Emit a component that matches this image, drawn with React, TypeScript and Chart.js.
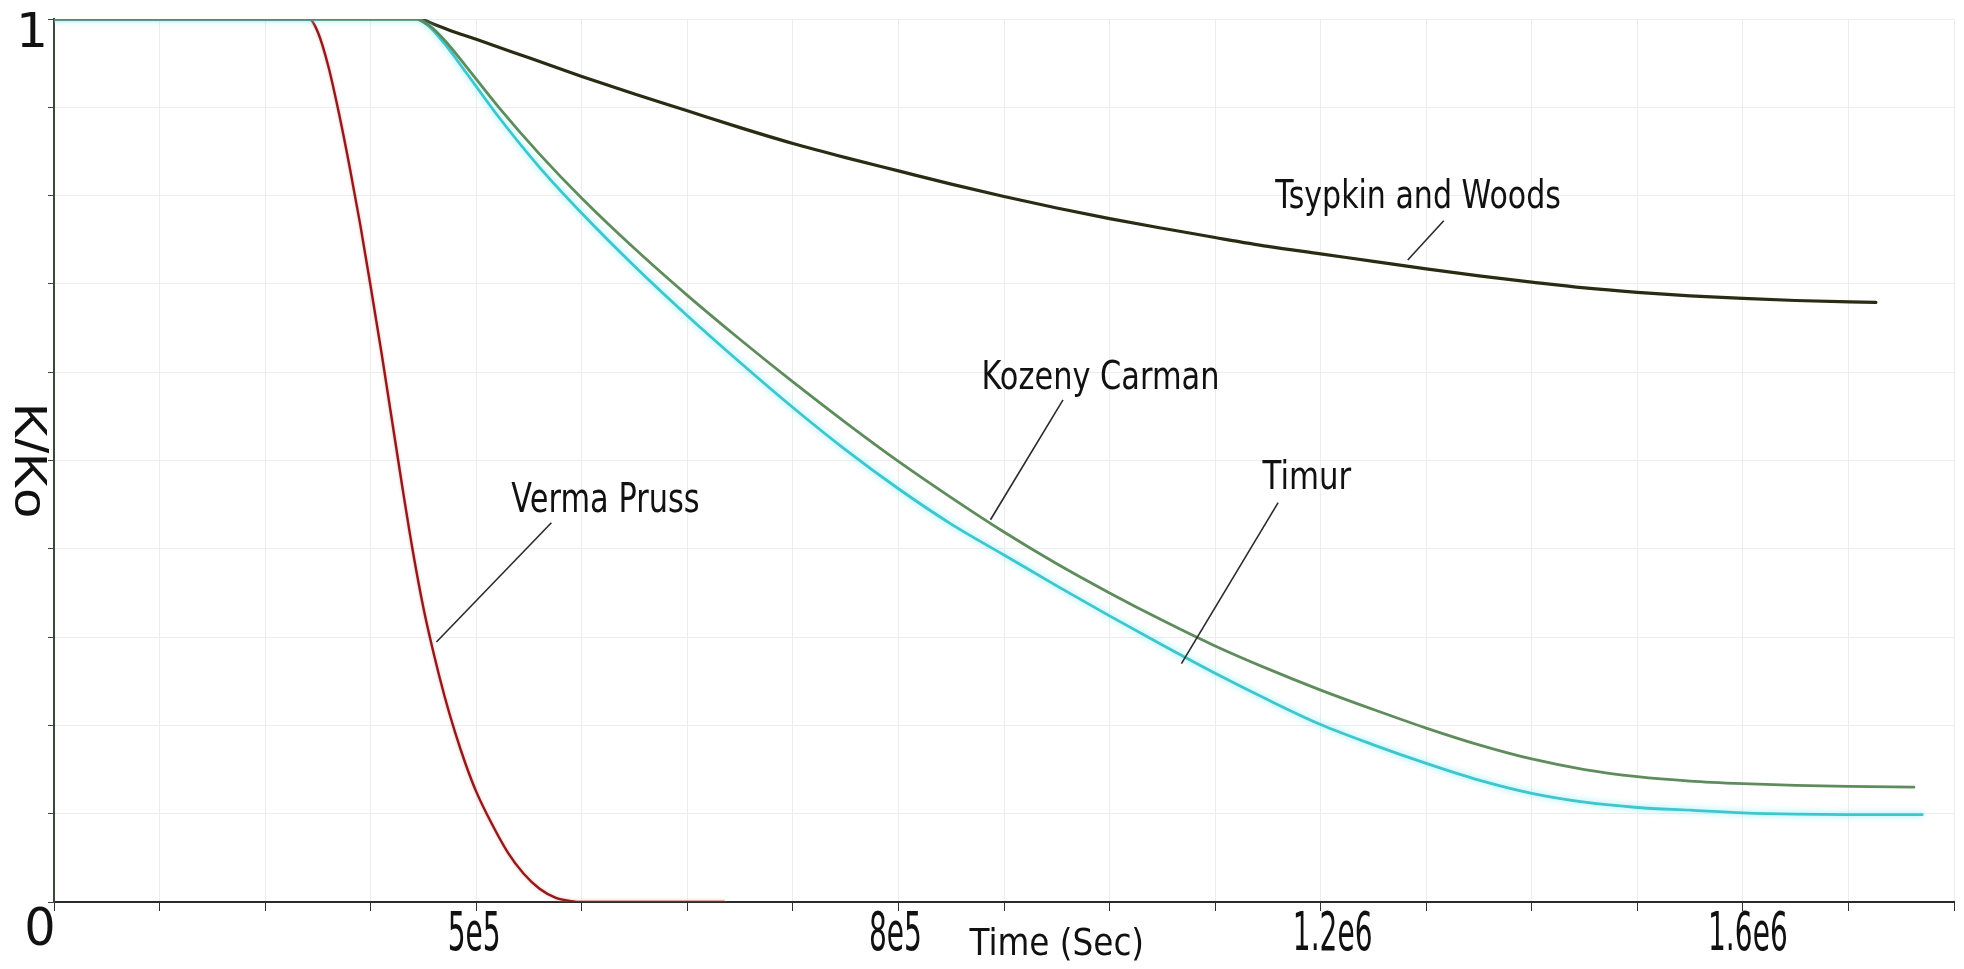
import React, { useEffect, useRef } from "react";
import { Chart, registerables } from "chart.js";

Chart.register(...registerables);

// ---------------- data ----------------
const timeTsypkin = [0, 346000, 360000, 380000, 400000, 450000, 500000, 550000, 600000, 650000, 700000, 750000, 800000, 850000, 900000, 950000, 1000000, 1050000, 1100000, 1150000, 1200000, 1250000, 1300000, 1350000, 1400000, 1450000, 1500000, 1550000, 1600000, 1650000, 1726000];
const kTsypkin = [1, 1, 0.994, 0.985, 0.977, 0.956, 0.935, 0.915, 0.896, 0.877, 0.859, 0.843, 0.828, 0.813, 0.799, 0.786, 0.774, 0.763, 0.7525, 0.7425, 0.734, 0.7255, 0.717, 0.709, 0.702, 0.6955, 0.6905, 0.6865, 0.6835, 0.6812, 0.679];

const timeKozeny = [0, 343000, 355000, 370000, 390000, 420000, 460000, 500000, 550000, 600000, 650000, 700000, 750000, 800000, 850000, 900000, 950000, 1000000, 1050000, 1100000, 1150000, 1200000, 1250000, 1300000, 1350000, 1400000, 1450000, 1500000, 1550000, 1600000, 1650000, 1700000, 1762000];
const kKozeny = [1, 1, 0.993, 0.976, 0.947, 0.902, 0.847, 0.797, 0.74, 0.687, 0.637, 0.589, 0.543, 0.499, 0.458, 0.419, 0.383, 0.35, 0.319, 0.29, 0.264, 0.24, 0.218, 0.197, 0.178, 0.162, 0.15, 0.142, 0.137, 0.134, 0.132, 0.131, 0.13];

const timeTimur = [0, 343000, 355000, 370000, 390000, 420000, 460000, 500000, 550000, 600000, 650000, 700000, 750000, 800000, 850000, 900000, 950000, 1000000, 1050000, 1100000, 1150000, 1200000, 1250000, 1300000, 1350000, 1400000, 1450000, 1500000, 1550000, 1600000, 1650000, 1700000, 1770000];
const kTimur = [1, 1, 0.992, 0.972, 0.94, 0.891, 0.832, 0.78, 0.72, 0.664, 0.611, 0.56, 0.512, 0.468, 0.428, 0.393, 0.358, 0.324, 0.291, 0.259, 0.229, 0.201, 0.178, 0.157, 0.138, 0.123, 0.113, 0.107, 0.104, 0.101, 0.0995, 0.099, 0.099];

const timeVerma = [0, 242000, 250000, 260000, 270000, 280000, 290000, 300000, 310000, 320000, 330000, 340000, 350000, 360000, 370000, 380000, 390000, 400000, 415000, 430000, 445000, 460000, 475000, 490000, 500000, 635000];
const kVerma = [1, 1, 0.985, 0.946, 0.893, 0.833, 0.768, 0.697, 0.624, 0.547, 0.47, 0.397, 0.333, 0.28, 0.233, 0.192, 0.156, 0.125, 0.088, 0.056, 0.032, 0.015, 0.005, 0.001, 0, 0];

const xTickValues = [400000, 800000, 1200000, 1600000];
const xTickLabels = ["5e5", "8e5", "1.2e6", "1.6e6"];
const xZeroLabel = "0";
const yTopLabel = "1";
const xAxisTitle = "Time (Sec)";
const yAxisTitle = "K/Ko";

const annotationLabels = ["Verma Pruss", "Kozeny Carman", "Timur", "Tsypkin and Woods"];
const labelTime = [433300, 878600, 1145000, 1157000];
const labelK = [0.4415, 0.5811, 0.468, 0.7865];
const pointerFromTime = [471200, 955900, 1159700, 1316600];
const pointerFromK = [0.4295, 0.5687, 0.4522, 0.7715];
const pointerToTime = [362300, 887200, 1068100, 1282500];
const pointerToK = [0.2945, 0.4329, 0.27, 0.727];

// ---------------- styles ----------------
const xTickShift = [-2, -3, 12, 5];
const annotationFontSize = [40, 38.5, 38.5, 38.5];
const annotationScaleX = [0.76, 0.79, 0.8, 0.78];
const FONT = '"DejaVu Sans", sans-serif';

const toPoints = (xs: number[], ys: number[]) => xs.map((x, i) => ({ x, y: ys[i] }));

function drawText(
  ctx: CanvasRenderingContext2D,
  text: string,
  x: number,
  y: number,
  font: string,
  sx: number,
  align: CanvasTextAlign
) {
  ctx.save();
  ctx.translate(x, y);
  ctx.scale(sx, 1);
  ctx.font = font;
  ctx.textAlign = align;
  ctx.textBaseline = "alphabetic";
  ctx.fillText(text, 0, 0);
  ctx.restore();
}

const glowPlugin = {
  id: "glow",
  beforeDatasetDraw(chart: any, args: any) {
    const ds = chart.data.datasets[args.index];
    if (ds.glowColor) {
      chart.ctx.save();
      chart.ctx.shadowColor = ds.glowColor;
      chart.ctx.shadowBlur = ds.glowBlur;
    }
  },
  afterDatasetDraw(chart: any, args: any) {
    const ds = chart.data.datasets[args.index];
    if (ds.glowColor) chart.ctx.restore();
  },
};

const textPlugin = {
  id: "texts",
  afterDraw(chart: any) {
    const ctx: CanvasRenderingContext2D = chart.ctx;
    const xs = chart.scales.x;
    const ys = chart.scales.y;
    ctx.save();
    ctx.fillStyle = "#111111";

    // x tick labels
    xTickValues.forEach((v, i) => {
      drawText(ctx, xTickLabels[i], xs.getPixelForValue(v) + xTickShift[i], ys.bottom + 48, `54px ${FONT}`, 0.52, "center");
    });
    // zero and one
    drawText(ctx, xZeroLabel, xs.getPixelForValue(0) - 14, ys.getPixelForValue(0) + 43, `52px ${FONT}`, 0.95, "center");
    drawText(ctx, yTopLabel, xs.getPixelForValue(0) - 22, ys.getPixelForValue(1) + 28, `48px ${FONT}`, 1.05, "center");

    // axis titles
    drawText(ctx, xAxisTitle, xs.getPixelForValue(950000), ys.bottom + 53, `38px ${FONT}`, 0.86, "center");
    ctx.save();
    ctx.translate(28, (ys.top + ys.bottom) / 2);
    ctx.rotate(Math.PI / 2);
    ctx.scale(1.15, 1);
    ctx.font = '46px "Liberation Sans", Arial, sans-serif';
    ctx.textAlign = "center";
    ctx.textBaseline = "middle";
    ctx.fillText(yAxisTitle, 0, 0);
    ctx.restore();

    // annotations
    ctx.strokeStyle = "#2a2a2a";
    ctx.lineWidth = 1.6;
    annotationLabels.forEach((label, i) => {
      drawText(ctx, label, xs.getPixelForValue(labelTime[i]), ys.getPixelForValue(labelK[i]), `${annotationFontSize[i]}px ${FONT}`, annotationScaleX[i], "left");
      ctx.beginPath();
      ctx.moveTo(xs.getPixelForValue(pointerFromTime[i]), ys.getPixelForValue(pointerFromK[i]));
      ctx.lineTo(xs.getPixelForValue(pointerToTime[i]), ys.getPixelForValue(pointerToK[i]));
      ctx.stroke();
    });
    ctx.restore();
  },
};

export default function App() {
  const ref = useRef<HTMLCanvasElement>(null);
  useEffect(() => {
    document.body.style.margin = "0";
    document.body.style.background = "#ffffff";
    const canvas = ref.current!;
    const chart = new Chart(canvas, {
      type: "line",
      data: {
        datasets: [
          {
            label: "Kozeny Carman",
            data: toPoints(timeKozeny, kKozeny),
            borderColor: "#5f8c5c",
            borderWidth: 2.8,
            order: 0,
          } as any,
          {
            label: "Timur",
            data: toPoints(timeTimur, kTimur),
            borderColor: "#3fc6cc",
            borderWidth: 2.8,
            glowColor: "rgba(120,235,245,0.95)",
            glowBlur: 6,
            order: 1,
          },
          {
            label: "Tsypkin and Woods",
            data: toPoints(timeTsypkin, kTsypkin),
            borderColor: "#2b2b14",
            borderWidth: 3.2,
            order: 2,
          },
          {
            label: "Verma Pruss",
            data: toPoints(timeVerma, kVerma),
            borderColor: "#8e1b1b",
            borderWidth: 2.4,
            glowColor: "rgba(240,150,150,0.8)",
            glowBlur: 3,
            order: 3,
          },
        ].map((d: any) => ({
          ...d,
          pointRadius: 0,
          fill: false,
          cubicInterpolationMode: "monotone",
          borderJoinStyle: "round",
          borderCapStyle: "round",
        })),
      },
      options: {
        responsive: false,
        animation: false,
        devicePixelRatio: 1,
        layout: { padding: { left: 0, top: 19, right: 10, bottom: 0 } },
        plugins: { legend: { display: false }, tooltip: { enabled: false }, title: { display: false } },
        scales: {
          x: {
            type: "linear",
            min: 0,
            max: 1800000,
            ticks: { stepSize: 100000, display: false },
            grid: { color: "#ededed", lineWidth: 1, tickColor: "#333333", tickLength: 9, drawTicks: true },
            border: { color: "#2b2b2b", width: 2 },
            afterFit: (s: any) => {
              s.height = 67;
            },
          },
          y: {
            type: "linear",
            min: 0,
            max: 1,
            ticks: { stepSize: 0.1, display: false },
            grid: { color: "#ededed", lineWidth: 1, tickColor: "#3a463a", tickLength: 6, drawTicks: true },
            border: { color: "#3a4a3a", width: 2 },
            afterFit: (s: any) => {
              s.width = 54;
            },
          },
        },
      } as any,
      plugins: [glowPlugin, textPlugin],
    });
    return () => chart.destroy();
  }, []);
  return <canvas ref={ref} width={1964} height={969} style={{ display: "block" }} />;
}
